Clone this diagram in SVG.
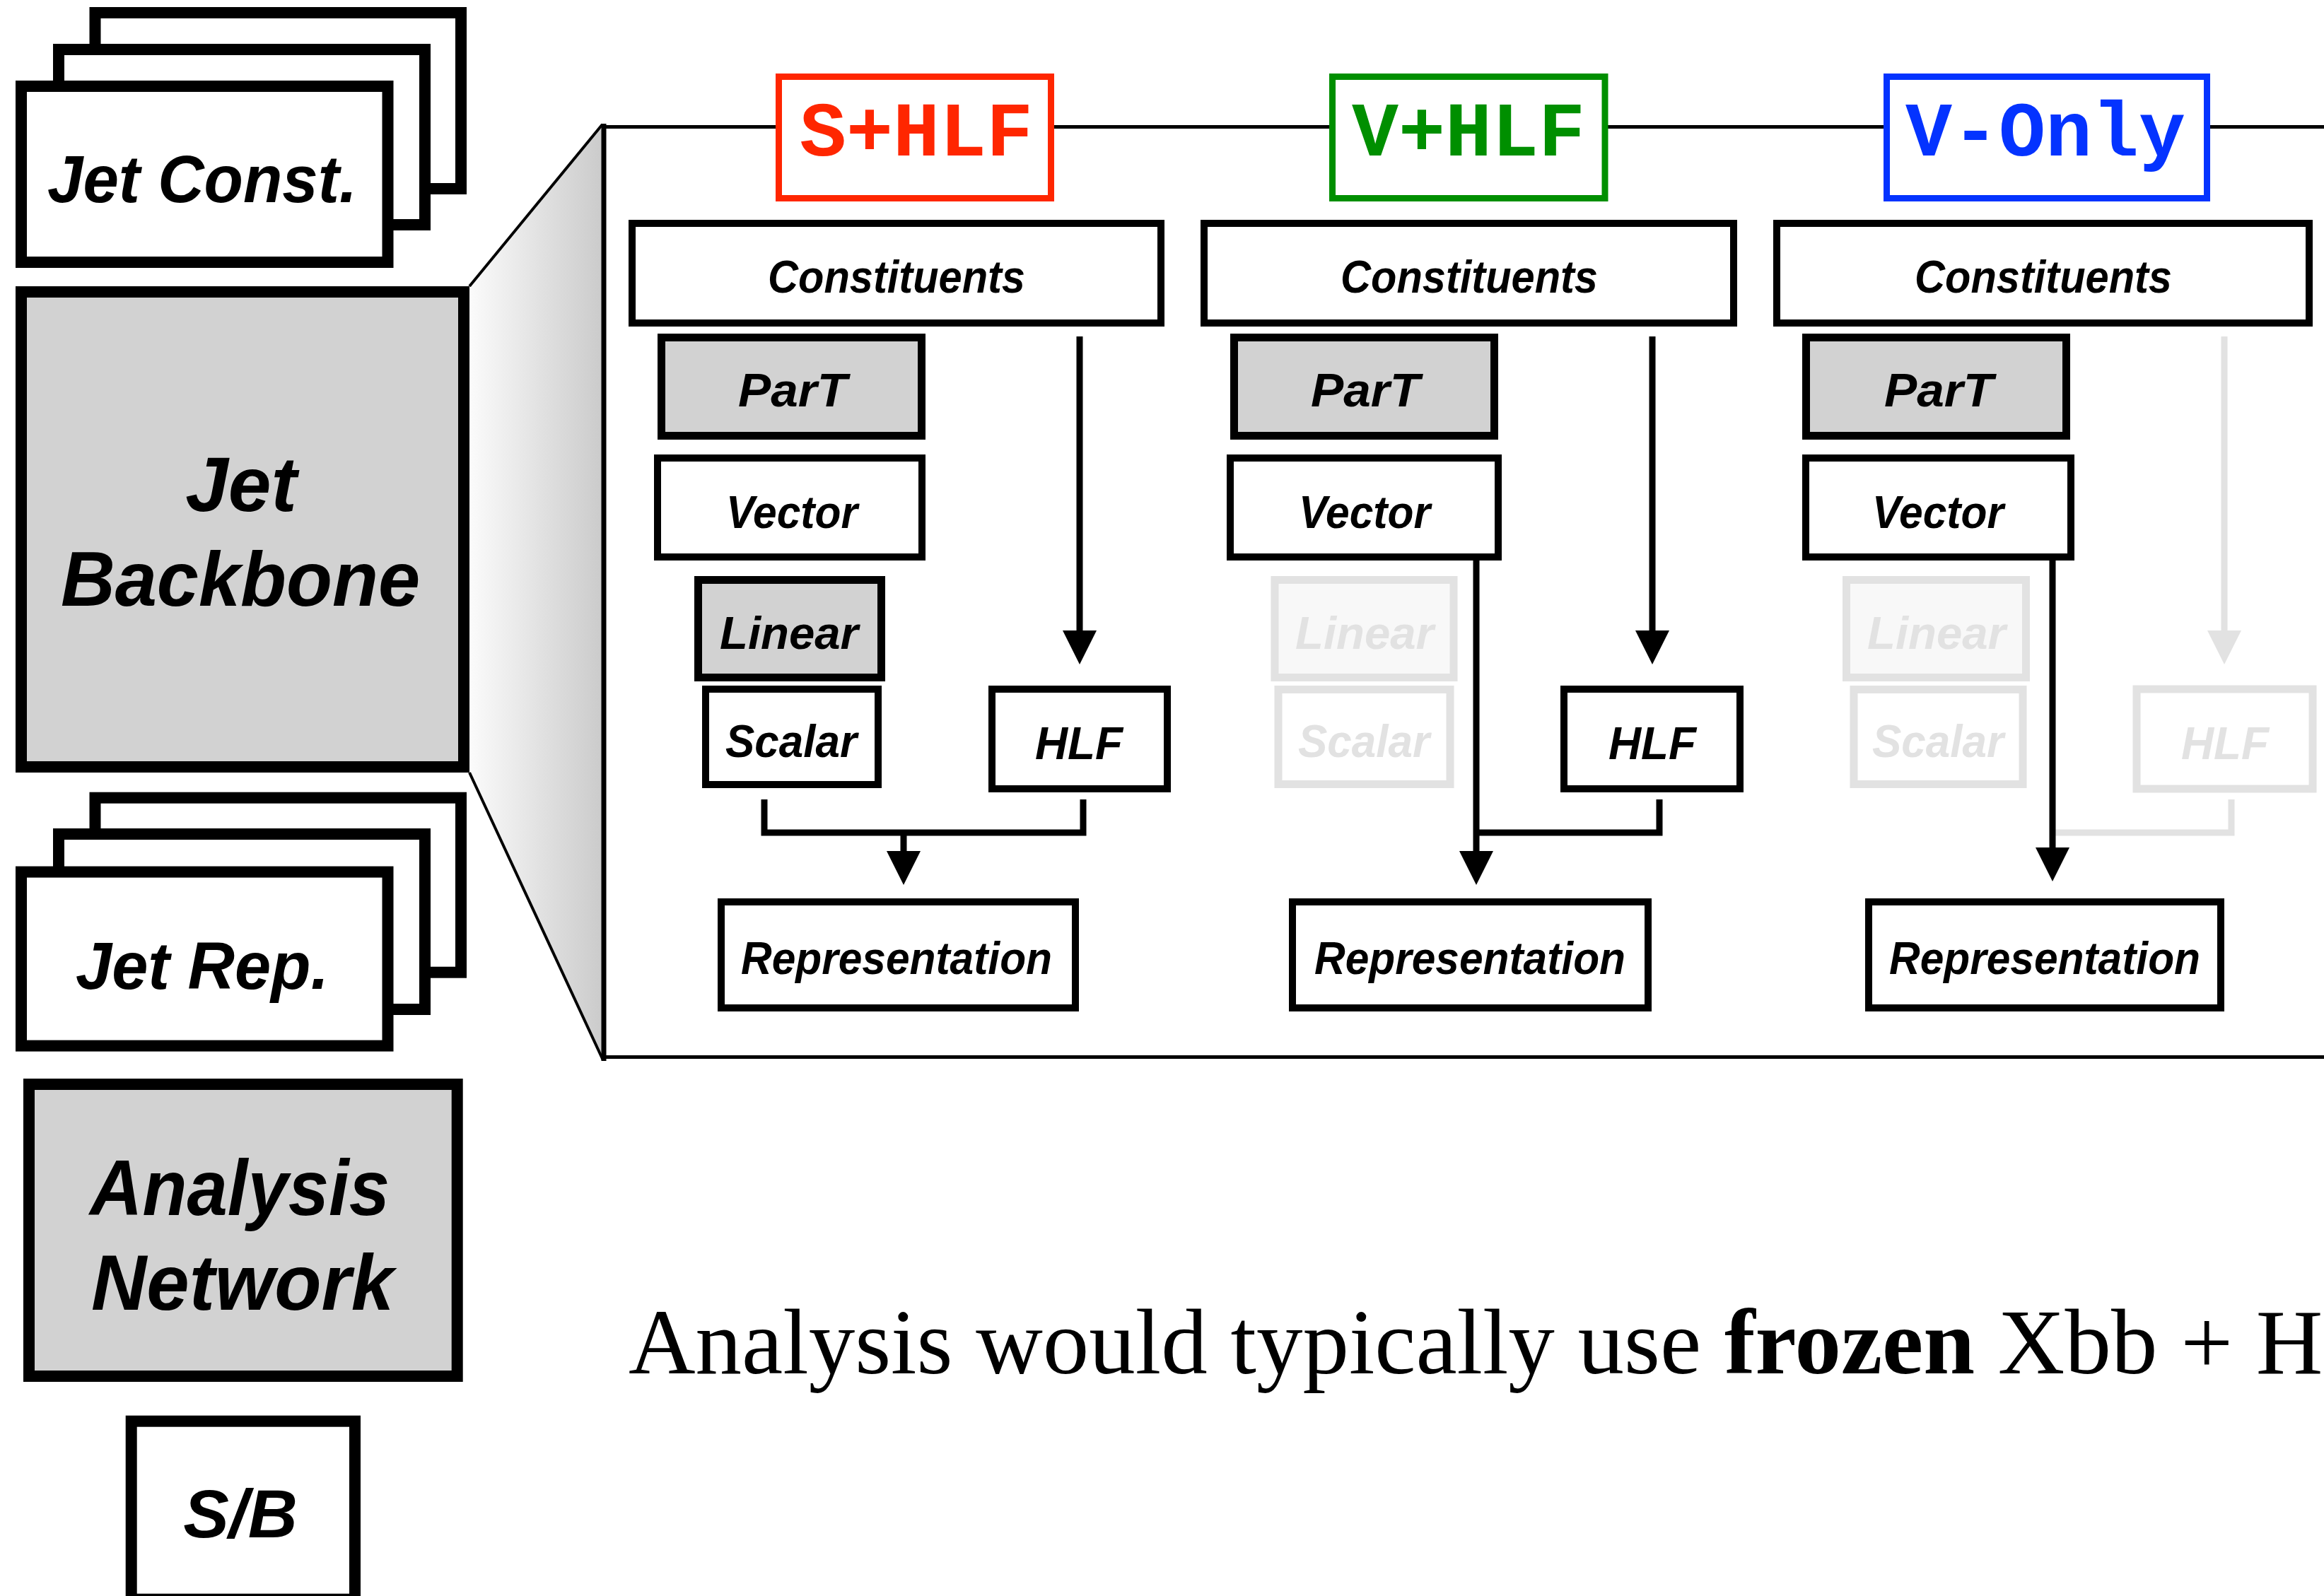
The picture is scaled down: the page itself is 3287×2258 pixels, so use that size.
<svg xmlns="http://www.w3.org/2000/svg" width="3287" height="2258" viewBox="0 0 3287 2258">
  <style>
    .big { stroke: #000; stroke-width: 16; fill: #fff; }
    .big.gray { fill: #d2d2d2; }
    .box { stroke: #000; stroke-width: 10; fill: #fff; }
    .box.gray { fill: #d2d2d2; stroke-width: 11; }
    .box.faded { stroke: #e2e2e2; fill: #fff; stroke-width: 11; }
    .box.faded.gray { fill: #f8f8f8; }
    .tag { stroke-width: 9; fill: #fff; }
    .lbl { font-family: "Liberation Sans", Arial, Helvetica, sans-serif; font-weight: bold; font-style: italic; fill: #000; text-anchor: middle; }
    .lbl.faded { fill: #e2e2e2; }
    .mono { font-family: "Liberation Mono", "Courier New", monospace; font-weight: bold; font-size: 110px; text-anchor: middle; }
    .wire { stroke: #000; stroke-width: 9; fill: none; stroke-linejoin: miter; }
    .wire.faded { stroke: #e2e2e2; }
    .head { fill: #000; }
    .head.faded { fill: #e2e2e2; }
    .frame { stroke: #000; fill: none; }
  </style>
  <defs>
    <linearGradient id="zoomFill" x1="0" y1="0" x2="1" y2="0">
      <stop offset="0" stop-color="#fbfbfb"/>
      <stop offset="1" stop-color="#cbcbcb"/>
    </linearGradient>
  </defs>

  <rect width="3287" height="2258" fill="#fff"/>

  <!-- left pipeline column -->
  <g id="jet-const">
    <rect class="big" x="134.5" y="18" width="517.5" height="249"/>
    <rect class="big" x="83" y="70" width="518" height="248"/>
    <rect class="big" x="30" y="122" width="518.5" height="249"/>
    <text class="lbl" x="286" y="285.5" font-size="94" textLength="438" lengthAdjust="spacingAndGlyphs">Jet Const.</text>
  </g>

  <g id="jet-backbone">
    <rect class="big gray" x="30" y="413" width="626" height="672"/>
    <text class="lbl" x="341" y="722.5" font-size="109">Jet</text>
    <text class="lbl" x="340" y="857" font-size="109" textLength="508" lengthAdjust="spacingAndGlyphs">Backbone</text>
  </g>

  <g id="jet-rep">
    <rect class="big" x="134.5" y="1128.7" width="517.5" height="247"/>
    <rect class="big" x="83" y="1180" width="518" height="248"/>
    <rect class="big" x="30" y="1233.6" width="518.5" height="246"/>
    <text class="lbl" x="286" y="1399" font-size="94" textLength="358" lengthAdjust="spacingAndGlyphs">Jet Rep.</text>
  </g>

  <g id="analysis-network">
    <rect class="big gray" x="41" y="1534" width="605.7" height="413"/>
    <text class="lbl" x="339" y="1719" font-size="112" textLength="424" lengthAdjust="spacingAndGlyphs">Analysis</text>
    <text class="lbl" x="343" y="1853" font-size="112" textLength="428" lengthAdjust="spacingAndGlyphs">Network</text>
  </g>

  <g id="s-over-b">
    <rect class="big" x="185.7" y="2010.7" width="316.3" height="252"/>
    <text class="lbl" x="340" y="2175" font-size="97">S/B</text>
  </g>

  <!-- zoom-out wedge from the backbone into the detail frame -->
  <g id="zoom-wedge">
    <polygon points="664,405 852,176 852,1500 664,1093" fill="url(#zoomFill)"/>
    <line class="frame" x1="664" y1="405" x2="852" y2="176" stroke-width="4"/>
    <line class="frame" x1="664" y1="1093" x2="853" y2="1500" stroke-width="4"/>
  </g>

  <g id="detail-frame">
    <line class="frame" x1="854" y1="175" x2="854" y2="1501" stroke-width="7"/>
    <line class="frame" x1="851" y1="179.5" x2="3287" y2="179.5" stroke-width="5"/>
    <line class="frame" x1="851" y1="1495.5" x2="3287" y2="1495.5" stroke-width="5"/>
  </g>

  <!-- variant tags on the frame edge -->
  <g id="tag-s-hlf">
    <rect class="tag" x="1101.5" y="108.5" width="385" height="172" stroke="#ff2600"/>
    <text class="mono" x="1296" y="220" fill="#ff2600">S+HLF</text>
  </g>
  <g id="tag-v-hlf">
    <rect class="tag" x="1884.5" y="108.5" width="385.5" height="172" stroke="#008f00"/>
    <text class="mono" x="2077" y="220" fill="#008f00">V+HLF</text>
  </g>
  <g id="tag-v-only">
    <rect class="tag" x="2668.5" y="108.5" width="453" height="172" stroke="#0433ff"/>
    <text class="mono" x="2893" y="220" fill="#0433ff">V-Only</text>
  </g>

  <!-- connectors -->
  <g id="connectors">
    <!-- S+HLF -->
    <line class="wire" x1="1527" y1="476" x2="1527" y2="894"/>
    <polygon class="head" points="1503,892 1551,892 1527,940"/>
    <path class="wire" d="M1081,1131 V1178 H1532 V1131"/>
    <line class="wire" x1="1278" y1="1178" x2="1278" y2="1206"/>
    <polygon class="head" points="1254,1204 1302,1204 1278,1252"/>
    <!-- V+HLF -->
    <line class="wire" x1="2337" y1="476" x2="2337" y2="894"/>
    <polygon class="head" points="2313,892 2361,892 2337,940"/>
    <path class="wire" d="M2347,1131 V1178 H2088"/>
    <line class="wire" x1="2088" y1="793" x2="2088" y2="1206"/>
    <polygon class="head" points="2064,1204 2112,1204 2088,1252"/>
    <!-- V-Only (HLF branch disabled) -->
    <line class="wire faded" x1="3146" y1="476" x2="3146" y2="894"/>
    <polygon class="head faded" points="3122,892 3170,892 3146,940"/>
    <path class="wire faded" d="M3156,1131 V1178 H2907"/>
    <line class="wire" x1="2903" y1="793" x2="2903" y2="1201"/>
    <polygon class="head" points="2879,1199 2927,1199 2903,1247"/>
  </g>

  <!-- S+HLF column -->
  <g id="shlf-constituents">
    <rect class="box" x="894" y="316" width="748" height="141"/>
    <text class="lbl" x="1268" y="414" font-size="64" textLength="364" lengthAdjust="spacingAndGlyphs">Constituents</text>
  </g>
  <g id="shlf-part">
    <rect class="box gray" x="935.5" y="477.5" width="368" height="139"/>
    <text class="lbl" x="1121" y="574.5" font-size="66" textLength="154" lengthAdjust="spacingAndGlyphs">ParT</text>
  </g>
  <g id="shlf-vector">
    <rect class="box" x="930" y="648" width="374" height="140"/>
    <text class="lbl" x="1120" y="747" font-size="64" textLength="186" lengthAdjust="spacingAndGlyphs">Vector</text>
  </g>
  <g id="shlf-linear">
    <rect class="box gray" x="987.5" y="820.5" width="259" height="138"/>
    <text class="lbl" x="1116" y="918" font-size="64" textLength="196" lengthAdjust="spacingAndGlyphs">Linear</text>
  </g>
  <g id="shlf-scalar">
    <rect class="box" x="998" y="975" width="244" height="135"/>
    <text class="lbl" x="1119" y="1071" font-size="64" textLength="186" lengthAdjust="spacingAndGlyphs">Scalar</text>
  </g>
  <g id="shlf-hlf">
    <rect class="box" x="1403" y="975" width="248" height="141"/>
    <text class="lbl" x="1526" y="1074" font-size="64" textLength="124" lengthAdjust="spacingAndGlyphs">HLF</text>
  </g>
  <g id="shlf-representation">
    <rect class="box" x="1020" y="1276" width="501" height="150"/>
    <text class="lbl" x="1268" y="1377.5" font-size="64" textLength="440" lengthAdjust="spacingAndGlyphs">Representation</text>
  </g>

  <!-- V+HLF column -->
  <g id="vhlf-constituents">
    <rect class="box" x="1703" y="316" width="749" height="141"/>
    <text class="lbl" x="2078" y="414" font-size="64" textLength="364" lengthAdjust="spacingAndGlyphs">Constituents</text>
  </g>
  <g id="vhlf-part">
    <rect class="box gray" x="1745.5" y="477.5" width="368" height="139"/>
    <text class="lbl" x="1931" y="574.5" font-size="66" textLength="154" lengthAdjust="spacingAndGlyphs">ParT</text>
  </g>
  <g id="vhlf-vector">
    <rect class="box" x="1740" y="648" width="379" height="140"/>
    <text class="lbl" x="1930" y="747" font-size="64" textLength="186" lengthAdjust="spacingAndGlyphs">Vector</text>
  </g>
  <g id="vhlf-linear">
    <rect class="box faded gray" x="1803" y="820.5" width="253" height="138"/>
    <text class="lbl faded" x="1930" y="918" font-size="64" textLength="196" lengthAdjust="spacingAndGlyphs">Linear</text>
  </g>
  <g id="vhlf-scalar">
    <rect class="box faded" x="1808" y="975.5" width="243" height="134"/>
    <text class="lbl faded" x="1929" y="1071" font-size="64" textLength="186" lengthAdjust="spacingAndGlyphs">Scalar</text>
  </g>
  <g id="vhlf-hlf">
    <rect class="box" x="2212" y="975" width="249" height="141"/>
    <text class="lbl" x="2337" y="1074" font-size="64" textLength="124" lengthAdjust="spacingAndGlyphs">HLF</text>
  </g>
  <g id="vhlf-representation">
    <rect class="box" x="1828" y="1276" width="503" height="150"/>
    <text class="lbl" x="2079" y="1377.5" font-size="64" textLength="440" lengthAdjust="spacingAndGlyphs">Representation</text>
  </g>

  <!-- V-Only column -->
  <g id="vonly-constituents">
    <rect class="box" x="2513" y="316" width="753" height="141"/>
    <text class="lbl" x="2890" y="414" font-size="64" textLength="364" lengthAdjust="spacingAndGlyphs">Constituents</text>
  </g>
  <g id="vonly-part">
    <rect class="box gray" x="2554.5" y="477.5" width="368" height="139"/>
    <text class="lbl" x="2742" y="574.5" font-size="66" textLength="154" lengthAdjust="spacingAndGlyphs">ParT</text>
  </g>
  <g id="vonly-vector">
    <rect class="box" x="2554" y="648" width="375" height="140"/>
    <text class="lbl" x="2741" y="747" font-size="64" textLength="186" lengthAdjust="spacingAndGlyphs">Vector</text>
  </g>
  <g id="vonly-linear">
    <rect class="box faded gray" x="2611.5" y="820.5" width="254" height="138"/>
    <text class="lbl faded" x="2739" y="918" font-size="64" textLength="196" lengthAdjust="spacingAndGlyphs">Linear</text>
  </g>
  <g id="vonly-scalar">
    <rect class="box faded" x="2622" y="975.5" width="239" height="134"/>
    <text class="lbl faded" x="2741" y="1071" font-size="64" textLength="186" lengthAdjust="spacingAndGlyphs">Scalar</text>
  </g>
  <g id="vonly-hlf">
    <rect class="box faded" x="3022" y="975" width="249" height="141"/>
    <text class="lbl faded" x="3147" y="1074" font-size="64" textLength="124" lengthAdjust="spacingAndGlyphs">HLF</text>
  </g>
  <g id="vonly-representation">
    <rect class="box" x="2643" y="1276" width="498" height="150"/>
    <text class="lbl" x="2892" y="1377.5" font-size="64" textLength="440" lengthAdjust="spacingAndGlyphs">Representation</text>
  </g>

  <!-- caption -->
  <text x="889" y="1943" font-family="'Liberation Serif', 'Times New Roman', serif" font-size="131" fill="#000">Analysis would typically use <tspan font-weight="bold">frozen</tspan> Xbb + H</text>
</svg>
